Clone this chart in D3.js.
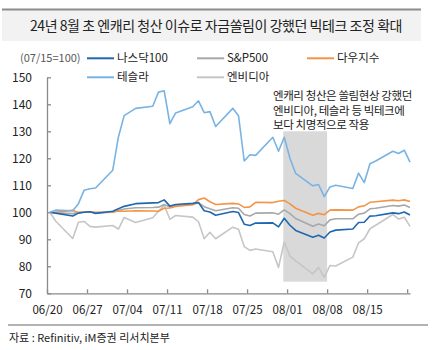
<!DOCTYPE html>
<html>
<head>
<meta charset="utf-8">
<script src="https://cdn.jsdelivr.net/npm/d3@7"></script>
<style>
  body { margin: 0; background: #fff; }
  svg { display: block; font-family: "Noto Sans CJK KR", "Noto Sans", sans-serif; }
</style>
</head>
<body>
<div id="chart"></div>
<script>
/* Data (06/20 = 100) */
const dates = ['06/20', '06/21', '06/24', '06/25', '06/26', '06/27', '06/28',
  '07/01', '07/02', '07/03', '07/05', '07/08', '07/09', '07/10', '07/11', '07/12',
  '07/15', '07/16', '07/17', '07/18', '07/19', '07/22', '07/23', '07/24', '07/25', '07/26',
  '07/29', '07/30', '07/31', '08/01', '08/02', '08/05', '08/06', '08/07', '08/08', '08/09',
  '08/12', '08/13', '08/14', '08/15', '08/16', '08/19', '08/20', '08/21', '08/22'];

const nasdaq = [100, 99.7, 98.6, 99.7, 100.0, 100.2, 99.6, 100.4, 101.3, 102.2, 103.2,
  103.5, 103.6, 104.6, 102.3, 102.9, 103.3, 103.6, 100.6, 100.1, 98.9, 100.3, 99.9,
  95.6, 95.1, 96.0, 96.1, 94.6, 97.8, 95.2, 93.3, 90.8, 91.5, 90.5, 92.7, 93.4, 93.8,
  96.2, 96.3, 98.6, 98.7, 99.8, 99.5, 100.1, 99.0];
const sp500 = [100, 99.8, 99.5, 99.9, 100.1, 100.2, 99.8, 100.0, 100.7, 101.2, 101.7,
  101.8, 101.9, 102.9, 102.0, 102.6, 102.9, 103.5, 102.1, 101.3, 100.6, 101.7, 101.5,
  99.2, 98.6, 99.7, 99.8, 99.3, 100.9, 99.5, 97.7, 94.8, 95.7, 95.0, 97.2, 97.6, 97.6,
  99.3, 99.7, 101.3, 101.5, 102.5, 102.3, 102.7, 101.8];
const dow = [100, 100.0, 100.7, 99.9, 100.0, 100.1, 100.0, 100.1, 100.5, 100.4, 100.6,
  100.5, 100.4, 101.5, 101.6, 102.2, 102.8, 104.7, 105.3, 103.9, 102.9, 103.3, 103.1,
  101.8, 102.0, 103.7, 103.6, 104.1, 104.4, 103.1, 101.5, 98.9, 99.6, 99.1, 100.8, 100.9,
  100.8, 102.0, 102.4, 103.7, 103.9, 104.5, 104.3, 104.6, 104.0];
const tesla = [100, 100.8, 100.6, 103.2, 108.2, 108.7, 109.0, 115.6, 128.0, 135.8, 138.5,
  139.3, 144.5, 145.0, 132.8, 136.8, 139.1, 141.3, 136.9, 137.3, 131.8, 138.5, 135.8,
  119.0, 121.3, 121.1, 127.8, 122.6, 127.8, 120.0, 114.4, 109.8, 110.3, 105.8, 109.4,
  110.0, 108.8, 114.5, 111.0, 118.0, 119.0, 122.6, 121.8, 123.0, 118.6];
const nvidia = [100, 96.8, 90.3, 96.3, 96.6, 94.8, 94.5, 95.1, 93.8, 98.1, 96.2, 98.0,
  100.4, 102.6, 97.4, 98.8, 98.2, 96.5, 90.2, 92.6, 90.2, 94.5, 93.7, 87.3, 85.9, 86.4,
  85.4, 79.6, 89.0, 83.8, 82.0, 77.2, 79.6, 75.9, 80.3, 80.1, 83.4, 88.7, 90.2, 93.9,
  95.2, 99.2, 97.5, 98.2, 94.8];

const seriesNames = ['나스닥100', 'S&P500', '다우지수', '테슬라', '엔비디아'];
const seriesColors = ['#1f68b0', '#a8a8a8', '#f39446', '#78b3e4', '#c6c6c6'];
const yTicks = [70, 80, 90, 100, 110, 120, 130, 140, 150];
const xTicks = ['06/20', '06/27', '07/04', '07/11', '07/18', '07/25', '08/01', '08/08', '08/15', '08/22'];
const shadeDates = ['07/31', '08/08'];
const shadeValues = [74.3, 130];

const title = '24년 8월 초 엔캐리 청산 이슈로 자금쏠림이 강했던 빅테크 조정 확대';
const unitLabel = '(07/15=100)';
const note = ['엔캐리 청산은 쏠림현상 강했던', '엔비디아, 테슬라 등 빅테크에', '보다 치명적으로 작용'];
const source = '자료 : Refinitiv, iM증권 리서치본부';

/* Setup */
const width = 432;
const height = 350;
const parse = (s) => d3.timeParse('%Y/%m/%d')('2024/' + s);

const svg = d3
  .select('#chart')
  .append('svg')
  .attr('width', width)
  .attr('height', height);

const x = d3
  .scaleTime()
  .domain([parse('06/20'), d3.timeHour.offset(parse('08/22'), 12)])
  .range([47, 410]);

const y = d3.scaleLinear().domain([70, 150]).range([293.3, 77.3]);

// Title bar
svg.append('rect').attr('x', 2).attr('y', 10).attr('width', 419).attr('height', 31).attr('fill', '#f2f2f2');
svg.append('line').attr('x1', 2).attr('x2', 421).attr('y1', 9.5).attr('y2', 9.5)
  .attr('stroke', '#8c8c8c').attr('stroke-width', 2);
svg.append('text')
  .attr('x', 216).attr('y', 31)
  .attr('text-anchor', 'middle')
  .attr('font-size', 14)
  .attr('letter-spacing', -0.45)
  .attr('fill', '#222')
  .text(title);

// Shaded period
svg.append('rect')
  .attr('x', x(d3.timeHour.offset(parse(shadeDates[0]), 8)))
  .attr('width', x(parse(shadeDates[1])) - x(d3.timeHour.offset(parse(shadeDates[0]), 8)))
  .attr('y', y(shadeValues[1]))
  .attr('height', y(shadeValues[0]) - y(shadeValues[1]))
  .attr('fill', '#d9d9d9');

// Axes
const yAxis = svg.append('g')
  .attr('transform', `translate(${x.range()[0]},0)`)
  .call(d3.axisLeft(y).tickValues(yTicks).tickSize(-4).tickSizeOuter(0).tickPadding(15));

const xAxis = svg.append('g')
  .attr('transform', `translate(0,${y.range()[0]})`)
  .call(d3.axisBottom(x)
    .tickValues(xTicks.map(parse))
    .tickSize(-4).tickSizeOuter(0).tickPadding(13)
    .tickFormat((d, i) => (i < xTicks.length - 1 ? xTicks[i] : '')));

[yAxis, xAxis].forEach((g) => {
  g.selectAll('path, line').attr('stroke', '#8a8a8a').attr('stroke-width', 1.3);
  g.selectAll('text').attr('fill', '#222').attr('font-family', '"Noto Sans CJK KR", sans-serif');
});
yAxis.selectAll('text').attr('font-size', 12);
xAxis.selectAll('text').attr('font-size', 11.5);

// Lines
const allSeries = [nasdaq, sp500, dow, tesla, nvidia];
const line = d3.line()
  .x((d, i) => x(d3.timeHour.offset(parse(dates[i]), 12)))
  .y((d) => y(d));

const drawOrder = [4, 1, 2, 0, 3];
svg.append('g')
  .selectAll('path')
  .data(drawOrder)
  .join('path')
  .attr('d', (k) => line(allSeries[k]))
  .attr('fill', 'none')
  .attr('stroke', (k) => seriesColors[k])
  .attr('stroke-width', 1.6)
  .attr('stroke-linejoin', 'round');

// Legend
svg.append('text')
  .attr('x', 20).attr('y', 62)
  .attr('font-size', 11)
  .attr('fill', '#595959')
  .text(unitLabel);

const legendPos = [
  { lx: 87, ly: 58.3 },
  { lx: 197, ly: 58.3 },
  { lx: 307, ly: 58.3 },
  { lx: 87, ly: 77.3 },
  { lx: 197, ly: 77.3 },
];
const legend = svg.append('g')
  .selectAll('g')
  .data(seriesNames)
  .join('g')
  .attr('transform', (d, i) => `translate(${legendPos[i].lx},${legendPos[i].ly})`);
legend.append('line')
  .attr('x1', 0).attr('x2', 27)
  .attr('stroke', (d, i) => seriesColors[i])
  .attr('stroke-width', 2);
legend.append('text')
  .attr('x', 30).attr('dy', '0.36em')
  .attr('font-size', 11.5)
  .attr('fill', '#222')
  .text((d) => d);

// Annotation
svg.append('text')
  .attr('font-size', 11.5)
  .attr('letter-spacing', -0.4)
  .attr('fill', '#222')
  .selectAll('tspan')
  .data(note)
  .join('tspan')
  .attr('x', 273)
  .attr('y', (d, i) => 100 + i * 14.5)
  .text((d) => d);

// Footer
svg.append('line').attr('x1', 8).attr('x2', 428).attr('y1', 325).attr('y2', 325)
  .attr('stroke', '#999').attr('stroke-width', 1.5);
svg.append('text')
  .attr('x', 9).attr('y', 342)
  .attr('font-size', 11)
  .attr('fill', '#222')
  .text(source);
</script>
</body>
</html>
